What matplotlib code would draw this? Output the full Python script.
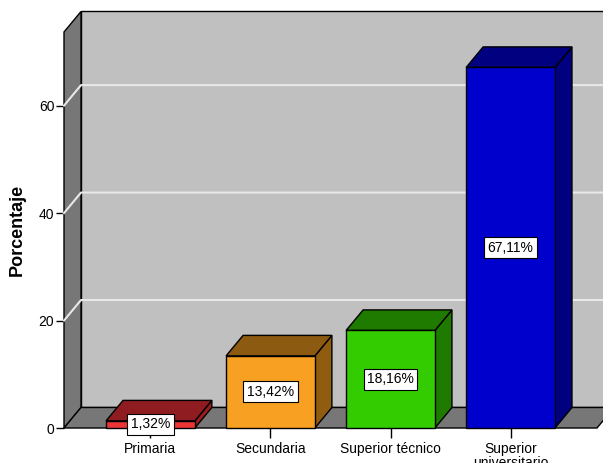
import matplotlib.pyplot as plt
from matplotlib.patches import Polygon

categorias = ["Primaria", "Secundaria", "Superior técnico", "Superior\nuniversitario"]
porcentajes = [1.32, 13.42, 18.16, 67.11]
etiquetas = ["1,32%", "13,42%", "18,16%", "67,11%"]
frente = ["#ee3535", "#f7a021", "#33cc00", "#0000cc"]
tapa = ["#8e1c20", "#8c5a10", "#1f7a00", "#000080"]
lado = ["#9c1c1c", "#8f5c10", "#1f7a00", "#000080"]
yticks = [0, 20, 40, 60]

plt.rcParams['font.family'] = ['Liberation Sans', 'DejaVu Sans']

fig = plt.figure(figsize=(6.03, 4.63), dpi=100)
ax = fig.add_axes([64 / 603, 35 / 463, 533 / 603, 396 / 463])
x0, x1 = -0.72, 3.72
ymax = 73.7
ax.set_xlim(x0, x1)
ax.set_ylim(0, ymax)

# profundidad del efecto 3D (en unidades de datos)
dx = 17 / 120
dy = 20.5 / 5.37
w = 0.74


def poly(pts, fc, z, lw=1.0, ec="black"):
    p = Polygon(pts, closed=True, facecolor=fc, edgecolor=ec, lw=lw,
                zorder=z, clip_on=False, joinstyle="miter")
    ax.add_patch(p)


# paredes y suelo
poly([(x0 + dx, dy), (x1 + dx, dy), (x1 + dx, ymax + dy), (x0 + dx, ymax + dy)], "#c0c0c0", 1)
poly([(x0, 0), (x0 + dx, dy), (x0 + dx, ymax + dy), (x0, ymax)], "#777777", 1)
poly([(x0, 0), (x1, 0), (x1 + dx, dy), (x0 + dx, dy)], "#777777", 1)

for t in yticks[1:]:
    ax.plot([x0, x0 + dx, x1 + dx], [t, t + dy, t + dy], color="#e8e8e8",
            lw=1.5, zorder=2, clip_on=False)

# barras
for i, v in enumerate(porcentajes):
    l, r = i - w / 2, i + w / 2
    z = 3 + i
    poly([(r, 0), (r + dx, dy), (r + dx, v + dy), (r, v)], lado[i], z)
    poly([(l, v), (r, v), (r + dx, v + dy), (l + dx, v + dy)], tapa[i], z)
    poly([(l, 0), (r, 0), (r, v), (l, v)], frente[i], z)
    ax.text(i, v / 2, etiquetas[i], ha="center", va="center", fontsize=10, zorder=10,
            bbox=dict(boxstyle="square,pad=0.25", fc="white", ec="black", lw=0.8))

for s in ax.spines.values():
    s.set_visible(False)
ax.set_yticks(yticks)
ax.set_xticks(range(len(categorias)))
ax.set_xticklabels(categorias, fontsize=10, linespacing=1.0)
ax.tick_params(axis="y", length=6, width=1, labelsize=10, pad=1)
ax.tick_params(axis="x", length=7, width=1, pad=3)
ax.set_ylabel("Porcentaje", fontsize=13, fontweight="bold", labelpad=9)
ax.set_facecolor("none")

fig.savefig("out.png", dpi=100)
